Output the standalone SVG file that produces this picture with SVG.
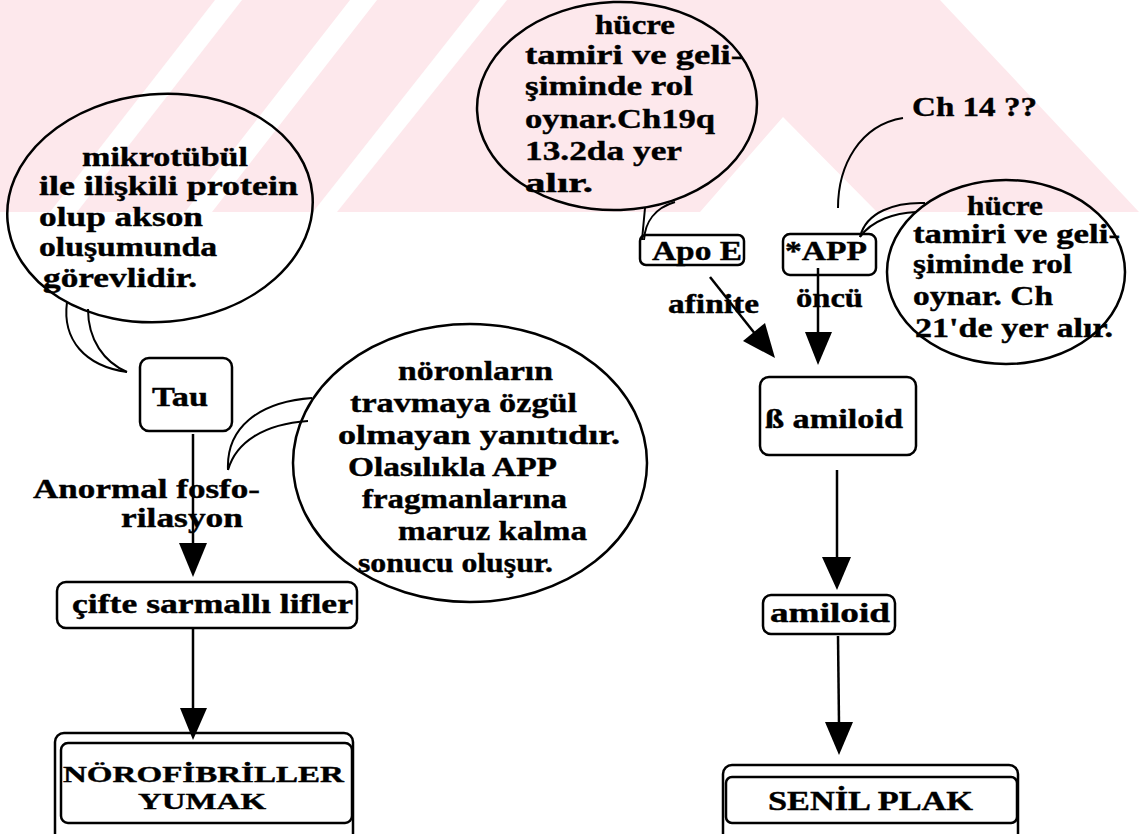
<svg xmlns="http://www.w3.org/2000/svg" width="1139" height="834" viewBox="0 0 1139 834">
<style>
.t{font-family:"Liberation Serif","Times New Roman",serif;font-weight:bold;font-size:28px;fill:#000;stroke:#000;stroke-width:0.4}
.big{font-size:24px}
.sh{fill:none;stroke:#000;stroke-width:2.5}
.tl{fill:none;stroke:#000;stroke-width:2}
.ln{stroke:#000;stroke-width:2.5;fill:none}
.ah{fill:#000}
.wm{fill:#fde8ec}
.wh{fill:#fff}
</style>
<rect width="1139" height="834" fill="#fff"/>
<g id="watermark">
<polygon class="wm" points="0,0 940,0 1139,212 0,212"/>
<polygon class="wh" points="215,0 242,0 77,212 50,212"/>
<polygon class="wh" points="350,0 377,0 212,212 185,212"/>
<polygon class="wh" points="480,0 507,0 337,212 313,212"/>
<polygon class="wh" points="783,117 877,212 700,212"/>
</g>
<g id="connectors">
<line class="ln" x1="193" y1="434" x2="193" y2="545"/>
<polygon class="ah" points="179,543 207,543 193,577"/>
<line class="ln" x1="193" y1="628" x2="193" y2="710"/>
<polygon class="ah" points="180,708 207,708 193,740"/>
<line class="ln" x1="710" y1="277" x2="756" y2="335"/>
<polygon class="ah" points="765,323 743,341 775,358"/>
<line class="ln" x1="818" y1="268" x2="818" y2="334"/>
<polygon class="ah" points="805,332 832,332 818,365"/>
<line class="ln" x1="837" y1="470" x2="837" y2="559"/>
<polygon class="ah" points="822,557 851,557 837,590"/>
<line class="ln" x1="838" y1="636" x2="839" y2="724"/>
<polygon class="ah" points="825,722 853,722 839,755"/>
<path class="tl" d="M903,118 C860,125 838,165 838,208"/>
</g>
<g id="note-mikrotubul">
<ellipse class="sh" cx="160" cy="208" rx="153" ry="114" transform="rotate(-5 160 208)"/>
<path class="tl" d="M67,302 C62,340 85,366 127,372"/>
<path class="tl" d="M88,309 C88,340 104,362 127,372"/>
<text class="t" x="82" y="166" textLength="166" lengthAdjust="spacingAndGlyphs">mikrotübül</text>
<text class="t" x="39" y="195" textLength="259" lengthAdjust="spacingAndGlyphs">ile ilişkili protein</text>
<text class="t" x="39" y="226" textLength="164" lengthAdjust="spacingAndGlyphs">olup akson</text>
<text class="t" x="39" y="256" textLength="178" lengthAdjust="spacingAndGlyphs">oluşumunda</text>
<text class="t" x="43" y="287" textLength="154" lengthAdjust="spacingAndGlyphs">görevlidir.</text>
</g>
<g id="tau">
<rect class="sh" x="140" y="358" width="92" height="73" rx="9"/>
<text class="t" x="152" y="406" textLength="56" lengthAdjust="spacingAndGlyphs">Tau</text>
</g>
<g id="label-fosforilasyon">
<text class="t" x="33" y="498" textLength="227" lengthAdjust="spacingAndGlyphs">Anormal fosfo-</text>
<text class="t" x="121" y="527" textLength="122" lengthAdjust="spacingAndGlyphs">rilasyon</text>
</g>
<g id="note-noronlarin">
<ellipse class="sh" cx="470" cy="463" rx="177" ry="139"/>
<path class="tl" d="M228,470 C226,428 258,402 312,398"/>
<path class="tl" d="M228,470 C236,442 264,424 308,421"/>
<text class="t" x="398" y="380" textLength="155" lengthAdjust="spacingAndGlyphs">nöronların</text>
<text class="t" x="350" y="412" textLength="227" lengthAdjust="spacingAndGlyphs">travmaya özgül</text>
<text class="t" x="338" y="444" textLength="282" lengthAdjust="spacingAndGlyphs">olmayan yanıtıdır.</text>
<text class="t" x="348" y="476" textLength="209" lengthAdjust="spacingAndGlyphs">Olasılıkla APP</text>
<text class="t" x="362" y="508" textLength="205" lengthAdjust="spacingAndGlyphs">fragmanlarına</text>
<text class="t" x="398" y="540" textLength="189" lengthAdjust="spacingAndGlyphs">maruz kalma</text>
<text class="t" x="358" y="572" textLength="195" lengthAdjust="spacingAndGlyphs">sonucu oluşur.</text>
</g>
<g id="cifte">
<rect class="sh" x="57" y="582" width="300" height="46" rx="9"/>
<text class="t" x="72" y="613" textLength="281" lengthAdjust="spacingAndGlyphs">çifte sarmallı lifler</text>
</g>
<g id="norofibriller">
<rect class="sh" x="55" y="733" width="298" height="112" rx="9"/>
<rect class="sh" x="61" y="743" width="291" height="80" rx="7"/>
<text class="t big" x="63" y="782" textLength="281" lengthAdjust="spacingAndGlyphs">NÖROFİBRİLLER</text>
<text class="t big" x="138" y="809" textLength="128" lengthAdjust="spacingAndGlyphs">YUMAK</text>
</g>
<g id="note-apoe">
<ellipse class="sh" cx="617" cy="106" rx="140" ry="104" transform="rotate(-2 617 106)"/>
<path class="tl" d="M645,208 L642,240"/>
<path class="tl" d="M675,202 C655,208 645,222 644,240"/>
<text class="t" x="595" y="34" textLength="80" lengthAdjust="spacingAndGlyphs">hücre</text>
<text class="t" x="525" y="64" textLength="218" lengthAdjust="spacingAndGlyphs">tamiri ve geli-</text>
<text class="t" x="525" y="95" textLength="168" lengthAdjust="spacingAndGlyphs">şiminde rol</text>
<text class="t" x="525" y="128" textLength="190" lengthAdjust="spacingAndGlyphs">oynar.Ch19q</text>
<text class="t" x="525" y="160" textLength="157" lengthAdjust="spacingAndGlyphs">13.2da yer</text>
<text class="t" x="525" y="192" textLength="68" lengthAdjust="spacingAndGlyphs">alır.</text>
</g>
<g id="apoe">
<rect class="sh" x="640" y="235" width="104" height="30" rx="6"/>
<text class="t" x="652" y="260" textLength="90" lengthAdjust="spacingAndGlyphs">Apo E</text>
</g>
<g id="app">
<rect class="sh" x="783" y="234" width="93" height="41" rx="7"/>
<text class="t" x="785" y="260" textLength="82" lengthAdjust="spacingAndGlyphs">*APP</text>
</g>
<g id="label-ch14">
<text class="t" x="912" y="116" textLength="125" lengthAdjust="spacingAndGlyphs">Ch 14 ??</text>
</g>
<g id="label-afinite">
<text class="t" x="668" y="313" textLength="91" lengthAdjust="spacingAndGlyphs">afinite</text>
</g>
<g id="label-oncu">
<text class="t" x="796" y="307" textLength="67" lengthAdjust="spacingAndGlyphs">öncü</text>
</g>
<g id="note-app">
<ellipse class="sh" cx="1006" cy="272" rx="119" ry="92"/>
<path class="tl" d="M860,237 C866,212 895,202 925,203"/>
<path class="tl" d="M860,237 C872,220 895,213 916,212"/>
<text class="t" x="967" y="215" textLength="76" lengthAdjust="spacingAndGlyphs">hücre</text>
<text class="t" x="913" y="243" textLength="207" lengthAdjust="spacingAndGlyphs">tamiri ve geli-</text>
<text class="t" x="913" y="273" textLength="159" lengthAdjust="spacingAndGlyphs">şiminde rol</text>
<text class="t" x="913" y="305" textLength="140" lengthAdjust="spacingAndGlyphs">oynar. Ch</text>
<text class="t" x="915" y="337" textLength="198" lengthAdjust="spacingAndGlyphs">21'de yer alır.</text>
</g>
<g id="beta-amiloid">
<rect class="sh" x="760" y="377" width="156" height="78" rx="9"/>
<text class="t" x="765" y="428" textLength="138" lengthAdjust="spacingAndGlyphs">ß amiloid</text>
</g>
<g id="amiloid">
<rect class="sh" x="763" y="595" width="132" height="39" rx="8"/>
<text class="t" x="770" y="622" textLength="120" lengthAdjust="spacingAndGlyphs">amiloid</text>
</g>
<g id="senil-plak">
<rect class="sh" x="723" y="765" width="295" height="80" rx="9"/>
<rect class="sh" x="726" y="777" width="291" height="46" rx="6"/>
<text class="t" x="768" y="810" textLength="205" lengthAdjust="spacingAndGlyphs">SENİL PLAK</text>
</g>
</svg>
